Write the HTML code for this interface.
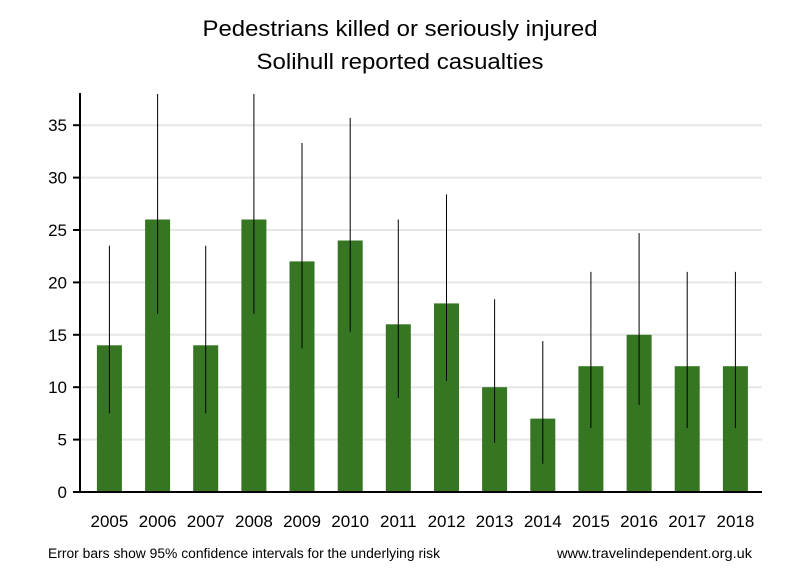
<!DOCTYPE html>
<html><head><style>body{margin:0;background:#fff}svg{display:block;font-family:"Liberation Sans",sans-serif}</style></head><body>
<svg width="800" height="580" xmlns="http://www.w3.org/2000/svg">
<text x="400" y="36" font-size="22" text-anchor="middle" textLength="395" lengthAdjust="spacingAndGlyphs">Pedestrians killed or seriously injured</text>
<text x="400" y="69" font-size="22" text-anchor="middle" textLength="287" lengthAdjust="spacingAndGlyphs">Solihull reported casualties</text>
<g stroke="#e6e6e6" stroke-width="2">
<line x1="81" x2="762" y1="439.6" y2="439.6"/><line x1="81" x2="762" y1="387.2" y2="387.2"/><line x1="81" x2="762" y1="334.8" y2="334.8"/><line x1="81" x2="762" y1="282.4" y2="282.4"/><line x1="81" x2="762" y1="230" y2="230"/><line x1="81" x2="762" y1="177.6" y2="177.6"/><line x1="81" x2="762" y1="125.2" y2="125.2"/>
</g>
<g fill="#367521">
<rect x="96.9" y="345.3" width="25" height="146.7"/>
<rect x="145.1" y="219.5" width="25" height="272.5"/>
<rect x="193.2" y="345.3" width="25" height="146.7"/>
<rect x="241.4" y="219.5" width="25" height="272.5"/>
<rect x="289.5" y="261.4" width="25" height="230.6"/>
<rect x="337.7" y="240.5" width="25" height="251.5"/>
<rect x="385.8" y="324.3" width="25" height="167.7"/>
<rect x="434" y="303.4" width="25" height="188.6"/>
<rect x="482.1" y="387.2" width="25" height="104.8"/>
<rect x="530.3" y="418.6" width="25" height="73.4"/>
<rect x="578.4" y="366.2" width="25" height="125.8"/>
<rect x="626.6" y="334.8" width="25" height="157.2"/>
<rect x="674.7" y="366.2" width="25" height="125.8"/>
<rect x="722.9" y="366.2" width="25" height="125.8"/>
</g>
<g stroke="#000" stroke-width="1">
<line x1="109.4" x2="109.4" y1="245.7" y2="413.4"/>
<line x1="157.6" x2="157.6" y1="94" y2="313.8"/>
<line x1="205.7" x2="205.7" y1="245.7" y2="413.4"/>
<line x1="253.9" x2="253.9" y1="94" y2="313.8"/>
<line x1="302" x2="302" y1="143" y2="348.4"/>
<line x1="350.2" x2="350.2" y1="117.9" y2="331.7"/>
<line x1="398.3" x2="398.3" y1="219.5" y2="397.7"/>
<line x1="446.5" x2="446.5" y1="194.4" y2="380.9"/>
<line x1="494.6" x2="494.6" y1="299.2" y2="442.7"/>
<line x1="542.8" x2="542.8" y1="341.1" y2="463.7"/>
<line x1="590.9" x2="590.9" y1="271.9" y2="428.1"/>
<line x1="639.1" x2="639.1" y1="233.1" y2="405"/>
<line x1="687.2" x2="687.2" y1="271.9" y2="428.1"/>
<line x1="735.4" x2="735.4" y1="271.9" y2="428.1"/>
</g>
<g stroke="#000" stroke-width="2">
<line x1="80" x2="80" y1="93" y2="493"/>
<line x1="79" x2="762" y1="492" y2="492"/>
<line x1="73" x2="80" y1="492" y2="492"/><line x1="73" x2="80" y1="439.6" y2="439.6"/><line x1="73" x2="80" y1="387.2" y2="387.2"/><line x1="73" x2="80" y1="334.8" y2="334.8"/><line x1="73" x2="80" y1="282.4" y2="282.4"/><line x1="73" x2="80" y1="230" y2="230"/><line x1="73" x2="80" y1="177.6" y2="177.6"/><line x1="73" x2="80" y1="125.2" y2="125.2"/>
</g>
<g font-size="17" text-anchor="end">
<text x="67" y="498">0</text><text x="67" y="445.6">5</text><text x="67" y="393.2">10</text><text x="67" y="340.8">15</text><text x="67" y="288.4">20</text><text x="67" y="236">25</text><text x="67" y="183.6">30</text><text x="67" y="131.2">35</text>
</g>
<g font-size="17" text-anchor="middle">
<text x="109.4" y="527">2005</text><text x="157.6" y="527">2006</text><text x="205.7" y="527">2007</text><text x="253.9" y="527">2008</text><text x="302" y="527">2009</text><text x="350.2" y="527">2010</text><text x="398.3" y="527">2011</text><text x="446.5" y="527">2012</text><text x="494.6" y="527">2013</text><text x="542.8" y="527">2014</text><text x="590.9" y="527">2015</text><text x="639.1" y="527">2016</text><text x="687.2" y="527">2017</text><text x="735.4" y="527">2018</text>
</g>
<text x="48" y="558" font-size="13.5" textLength="392" lengthAdjust="spacingAndGlyphs">Error bars show 95% confidence intervals for the underlying risk</text>
<text x="557" y="558" font-size="13.5" textLength="195" lengthAdjust="spacingAndGlyphs">www.travelindependent.org.uk</text>
</svg>
</body></html>
